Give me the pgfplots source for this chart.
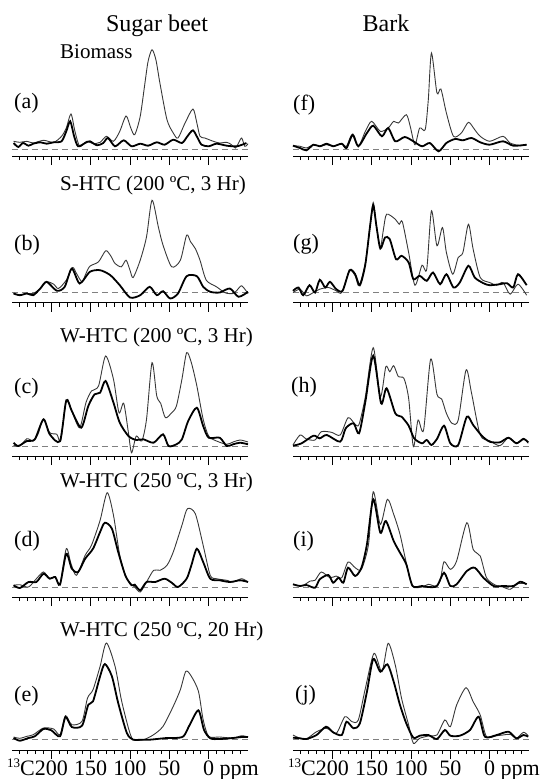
\documentclass[border=0pt]{standalone}
\usepackage{fontspec}
\setmainfont{Liberation Serif}
\usepackage{pgfplots}
\pgfplotsset{compat=1.18}

\pgfplotsset{
  spec/.style={
    scale only axis, width=236pt, height=110pt,
    anchor=south west,
    xmin=-50, xmax=250, x dir=reverse,
    ymin=-10, ymax=100,
    axis x line*=bottom, axis y line=none,
    xtick={0,50,...,200}, minor xtick={-40,-30,...,240},
    xticklabels={},
    tick align=outside, major tick length=9pt, minor tick length=4pt,
    tick style={black, line width=0.8pt},
    axis line style={black, line width=0.8pt},
    clip=false,
  },
  toprow/.style={ymin=-7, height=107pt},
  botrow/.style={ymin=-11, height=111pt,
    xticklabels={0\rlap{ ppm},50,100,150,{\llap{\raisebox{8pt}{\fontsize{13}{13}\selectfont 13}C}200}},
    xticklabel style={font=\fontsize{22}{24}\selectfont, text height=15pt, text depth=5pt, inner sep=1pt}},
  tl/.style={smooth, tension=0.45, line width=0.9pt, color=black!78, no markers},
  tk/.style={smooth, tension=0.45, line width=1.8pt, color=black, no markers},
  bl/.style={dash pattern=on 6pt off 4pt, line width=0.7pt, color=black!50, no markers},
}

\begin{document}
\begin{tikzpicture}
\path[use as bounding box] (0pt,0pt) rectangle (547pt,-779pt);

% ---------- Sugar beet ----------
\begin{axis}[spec, toprow, at={(12pt,-156pt)}]
\addplot[bl] coordinates {(250,0) (-50,0)};
\addplot[tl] coordinates {(248,7.7)(240,6.7)(231,7.7)(223,6)(210,8.7)(197,6.7)(187,12.7)(181,21)(175,35)(170,17.7)(164,2.7)(155,7.7)(147,5.3)(138,6.7)(130,12.7)(121,7.7)(113,17.7)(105,33)(99,21)(94,14.3)(87,32.7)(81,66)(77,87.7)(72,99.3)(67,89)(62,66)(53,29.3)(45,16)(39,11)(30,26)(20,40)(15,26)(11,12.7)(5,11)(-6,7.7)(-14,6)(-23,6.7)(-29,4.3)(-34,1)(-38,6)(-42,11)(-46,2.7)(-50,5.3)};
\addplot[tk] coordinates {(248,6)(242,2)(236,6)(229,3.3)(223,5.3)(214,6.7)(206,5.3)(197,6.7)(187,7.7)(181,17.7)(176,27.7)(171,12.7)(166,2.7)(157,6)(151,7.7)(142,3.7)(134,6)(128,11)(119,2.7)(108,8.7)(98,2.7)(87,5.3)(77,3.3)(66,6.7)(56,4.3)(45,9.3)(34,6)(27,12.7)(20,18.7)(14,11)(9,4.3)(0,2.7)(-10,5.3)(-23,3.3)(-36,2.7)(-48,6)};
\end{axis}

\begin{axis}[spec, at={(12pt,-302.5pt)}]
\addplot[bl] coordinates {(250,0) (-50,0)};
\addplot[tl] coordinates {(248,-1)(240,-2.7)(231,-1)(223,-1)(214,4)(206,10.7)(197,8.3)(191,4)(181,12.3)(173,25)(168,19)(161,10.7)(156,19)(151,26.3)(140,30.7)(131,41.7)(125,37.3)(119,29)(111,25.7)(105,32.3)(100,22.3)(96,15)(87,32.3)(79,55.7)(72,92.3)(64,65.7)(58,47.3)(47,25.7)(36,32.3)(28,57.3)(23,50.7)(17,44)(11,32.3)(3,12.3)(-10,5.7)(-21,-0.3)(-31,-1)(-36,2.3)(-42,6.7)(-50,-1)};
\addplot[tk] coordinates {(248,-1)(240,-2.7)(231,-1)(223,-2.7)(214,4)(206,10.7)(193,1.7)(183,5.7)(174,24)(164,9)(151,20.7)(138,22.3)(125,17.3)(113,7.3)(100,-5)(87,-2.7)(75,5.7)(66,-2.7)(58,1.3)(49,-6)(39,-1)(28,16.3)(15,16.3)(7,5.7)(-2,0.7)(-14,0)(-27,4)(-38,-4.3)(-50,0.7)};
\end{axis}

\begin{axis}[spec, at={(12pt,-456pt)}]
\addplot[bl] coordinates {(250,0) (-50,0)};
\addplot[tl] coordinates {(248,0.7)(240,0)(231,7.3)(223,5)(217,11.7)(210,26.7)(202,13.3)(193,11.7)(188,5)(181,45)(174,35)(164,18.3)(156,43.3)(149,55)(140,60)(131,90)(121,66.7)(114,33.3)(108,42.7)(102,13.3)(98,-6.7)(92,10)(85,5)(79,26.7)(72,83.3)(66,50)(61,42.7)(55,28.3)(47,33.3)(41,40)(34,66.7)(28,93.3)(22,83.3)(15,60)(7,26.7)(0,10)(-10,5)(-23,1.7)(-31,4)(-40,6)(-50,4)};
\addplot[tk] coordinates {(248,3.3)(242,0)(231,5)(221,6.7)(210,26.7)(202,11.7)(189,5)(181,45.7)(174,35)(162,18.3)(153,40)(145,51.7)(138,53.3)(131,65)(121,43.3)(113,23.3)(102,10)(92,6)(83,6.7)(70,3.3)(58,11.7)(51,0)(41,1.7)(34,6.7)(26,25)(15,38.3)(7,20)(0,8.3)(-14,8.3)(-23,0)(-31,1.7)(-40,3.3)(-50,1.7)};
\end{axis}

\begin{axis}[spec, at={(12pt,-597pt)}]
\addplot[bl] coordinates {(250,0) (-50,0)};
\addplot[tl] coordinates {(248,1.7)(240,2.3)(229,0)(219,8.3)(210,15)(202,8.3)(195,10)(189,3.3)(181,38.3)(175,23.3)(168,11.7)(157,31.7)(149,41.7)(138,66.7)(129,94.3)(121,71.7)(113,31.7)(104,8.3)(94,0)(87,-5)(79,5)(70,16.7)(62,16.7)(53,21.7)(45,35)(34,61.7)(27,78.3)(17,73.3)(7,41.7)(-2,11.7)(-10,8.3)(-23,6.7)(-31,5)(-42,8.3)(-50,5)};
\addplot[tk] coordinates {(248,1.7)(240,-1)(229,5)(219,5)(210,13.3)(202,8.3)(195,10)(189,2.3)(181,33.3)(174,18.3)(166,15)(157,28.3)(147,38.3)(138,55)(132,64.3)(123,58.3)(115,35)(106,11.7)(98,1.7)(94,2.3)(87,-3.3)(79,5)(68,5)(56,8.3)(47,4.3)(39,0)(28,8.3)(22,21.7)(15,38.3)(7,25)(-2,8.3)(-14,6.7)(-27,5)(-40,6.7)(-50,5)};
\end{axis}

\begin{axis}[spec, botrow, at={(12pt,-750pt)}]
\addplot[bl] coordinates {(250,0) (-50,0)};
\addplot[tl] coordinates {(248,2)(240,0.7)(231,2.7)(223,4.3)(210,11)(197,10)(189,4.3)(182,23.3)(174,14.3)(161,17.7)(154,41)(147,49.3)(138,72.7)(130,96)(119,72.7)(111,39.3)(102,11)(96,-0.7)(83,-0.7)(70,4.3)(58,12.7)(45,32.7)(36,49.3)(29,67.7)(22,62.7)(13,47.7)(7,19.3)(0,2.7)(-14,2)(-31,1)(-42,3.3)(-50,2)};
\addplot[tk] coordinates {(248,1)(240,-1.7)(229,1)(221,2.7)(210,10)(200,8.7)(189,2.7)(182,22)(174,12)(161,13.3)(153,34.3)(147,37.7)(138,62.7)(132,75)(123,62.7)(115,36)(104,6)(96,-0.7)(87,-0.7)(75,-0.7)(66,0)(53,1)(43,1)(32,2.7)(24,14.3)(13,28.7)(6,9.3)(-2,0.7)(-14,0)(-31,1)(-42,2)(-50,2)};
\end{axis}

% ---------- Bark ----------
\begin{axis}[spec, toprow, at={(293pt,-156pt)}]
\addplot[bl] coordinates {(250,0) (-50,0)};
\addplot[tl] coordinates {(250,3.3)(241,2.7)(233,1)(224,4.3)(216,2.7)(207,4.3)(199,2.7)(188,5.3)(182,2.7)(175,14.3)(167,2.7)(158,17.7)(150,27.7)(139,17.7)(129,21)(122,27.7)(116,26)(106,34.3)(101,22.7)(95,4.3)(89,21)(82,19.3)(78,49.3)(74,96)(67,56)(62,60)(55,36)(46,12.7)(36,16)(27,26.7)(19,19.3)(12,12.7)(0,7.7)(-17,12.7)(-26,6)(-39,3.3)(-47,4.3)};
\addplot[tk] coordinates {(250,3.3)(241,1)(233,-1.3)(224,4.3)(216,2.7)(207,5.3)(199,2.7)(188,5.3)(182,1)(174,14.3)(167,2.7)(156,16)(148,23.3)(137,12.7)(129,21)(120,7.7)(108,12)(97,7.7)(86,2.7)(76,6)(65,-2.3)(55,6)(44,10)(34,8.7)(23,11)(12,6.7)(0,4.3)(-17,7.7)(-30,3.3)(-47,4.3)};
\end{axis}

\begin{axis}[spec, at={(293pt,-302.5pt)}]
\addplot[bl] coordinates {(250,0) (-50,0)};
\addplot[tl] coordinates {(250,0)(241,3.3)(233,-3.3)(224,0)(216,3.3)(205,5)(195,1.7)(188,0)(178,21.7)(171,16.7)(166,6.7)(158,30)(152,66.7)(148,90)(144,66.7)(139,45)(135,63.3)(131,78.3)(120,73.3)(115,68.3)(111,70.7)(103,40)(95,7.3)(86,27.3)(80,23.3)(74,81.7)(67,46.7)(60,65)(55,40)(47,18.3)(40,35)(34,40)(27,68.3)(21,43.3)(12,15)(0,10)(-9,7.3)(-17,10)(-26,-1.7)(-36,8.3)(-47,-2.7)};
\addplot[tk] coordinates {(250,1.7)(243,5)(237,-2.7)(229,7.3)(222,0)(216,12.7)(209,5)(203,10.7)(195,3.3)(187,1.7)(178,22.3)(171,18.3)(165,7.3)(158,28.3)(152,66.7)(148,87.3)(144,66.7)(139,44)(133,55)(127,53.3)(119,33.3)(112,36.7)(103,30)(97,13.3)(89,16.7)(80,11.7)(72,20)(63,8.3)(55,18.3)(46,5)(38,10)(27,26.7)(19,15)(8,9.3)(0,7.3)(-13,8.3)(-22,9.3)(-30,5)(-36,18.3)(-47,7.3)};
\end{axis}

\begin{axis}[spec, at={(293pt,-456pt)}]
\addplot[bl] coordinates {(250,0) (-50,0)};
\addplot[tl] coordinates {(250,1)(241,11)(233,7)(222,6)(214,14.3)(201,13.7)(190,11)(180,28.3)(171,21.7)(166,21.7)(158,49.3)(148,98.3)(139,49.3)(132,79.3)(127,74.3)(122,80.3)(116,69.3)(109,67.7)(103,47.7)(97,-0.7)(91,26)(84,16)(75,87)(67,51.7)(61,47)(55,32.7)(48,22.7)(40,26)(30,76)(23,52.7)(12,11)(0,5.3)(-13,0.3)(-24,8.3)(-34,2.7)(-43,7.7)(-49,2.7)};
\addplot[tk] coordinates {(250,0.3)(239,2.7)(224,10.3)(216,7.7)(207,11)(190,4.3)(183,17.7)(173,22.7)(166,12.7)(158,44.3)(148,90.3)(138,42.7)(131,57.7)(120,32.7)(112,29.3)(103,20.3)(96,7.7)(86,2.7)(80,6)(74,1)(67,7)(58,20.3)(50,2.7)(40,1)(29,29.3)(21,21)(10,10.3)(0,4.3)(-13,3.7)(-24,8.3)(-34,2.7)(-43,7)(-49,3.7)};
\end{axis}

\begin{axis}[spec, at={(293pt,-597pt)}]
\addplot[bl] coordinates {(250,0) (-50,0)};
\addplot[tl] coordinates {(250,2.7)(239,1)(228,6)(222,6.7)(214,15)(203,9.3)(195,11)(188,9.3)(180,25)(171,19.3)(163,17.7)(154,42.7)(148,95.3)(139,62.7)(130,87.7)(122,72.7)(114,52.7)(106,24.3)(98,1)(86,0)(78,2.7)(69,1)(63,6)(58,25.3)(50,17.7)(42,26)(29,64.3)(21,37.7)(12,31)(4,9.3)(-7,2)(-17,0)(-26,-2.3)(-36,3.3)(-47,3.3)};
\addplot[tk] coordinates {(250,2.7)(241,1)(233,2)(222,-0.7)(216,7.7)(205,12)(199,4.3)(192,9.3)(186,4.3)(180,19.3)(171,11)(163,19.3)(156,42.7)(148,87.7)(139,54.3)(132,66)(122,46)(114,34.3)(106,22.7)(98,1)(86,1)(78,0)(67,1)(58,14.3)(50,1)(42,2.7)(29,16)(19,19.3)(8,9.3)(-5,1)(-17,1)(-30,1)(-39,5.3)(-47,2.7)};
\end{axis}

\begin{axis}[spec, botrow, at={(293pt,-750pt)}]
\addplot[bl] coordinates {(250,0) (-50,0)};
\addplot[tl] coordinates {(250,4)(241,0.7)(233,0)(220,7.3)(207,10.7)(195,5.7)(184,22.3)(175,17.3)(167,19)(158,50.7)(147,85.7)(137,67.3)(129,95.7)(120,74)(112,40.7)(103,14)(97,-4.3)(89,0.7)(76,3.3)(67,4)(57,19)(50,12.3)(42,34)(30,51.3)(21,37.3)(12,24)(4,2.3)(-9,3.3)(-17,4)(-26,4.7)(-34,0.7)(-43,6.7)(-49,3.3)};
\addplot[tk] coordinates {(250,1.3)(241,0.7)(233,0)(220,4)(208,12.3)(199,6.7)(188,4)(182,17.3)(173,10.7)(165,15.7)(156,47.3)(148,80)(139,67.3)(130,74.7)(122,57.3)(114,34)(106,15.7)(97,1.3)(89,3.3)(78,4)(67,0)(57,9)(50,3.3)(38,3.3)(25,9)(14,22.3)(6,2.3)(-9,4)(-24,7.3)(-34,0.7)(-43,4)(-49,2.3)};
\end{axis}

% ---------- texts ----------
\begin{scope}[every node/.style={inner sep=0pt}]
\node[anchor=base, font=\fontsize{24}{24}\selectfont] at (157pt,-31pt) {Sugar beet};
\node[anchor=base, font=\fontsize{24}{24}\selectfont] at (386pt,-31pt) {Bark};
\node[anchor=base west, font=\fontsize{21}{21}\selectfont] at (60pt,-58pt) {Biomass};
\node[anchor=base west, font=\fontsize{21}{21}\selectfont] at (60pt,-190pt) {S-HTC (200 ºC, 3 Hr)};
\node[anchor=base west, font=\fontsize{21}{21}\selectfont] at (60pt,-342pt) {W-HTC (200 ºC, 3 Hr)};
\node[anchor=base west, font=\fontsize{21}{21}\selectfont] at (60pt,-487pt) {W-HTC (250 ºC, 3 Hr)};
\node[anchor=base west, font=\fontsize{21}{21}\selectfont] at (60pt,-636pt) {W-HTC (250 ºC, 20 Hr)};
\node[anchor=base west, font=\fontsize{22}{22}\selectfont] at (14pt,-108pt) {(a)};
\node[anchor=base west, font=\fontsize{22}{22}\selectfont] at (14pt,-250pt) {(b)};
\node[anchor=base west, font=\fontsize{22}{22}\selectfont] at (14pt,-393pt) {(c)};
\node[anchor=base west, font=\fontsize{22}{22}\selectfont] at (14pt,-546pt) {(d)};
\node[anchor=base west, font=\fontsize{22}{22}\selectfont] at (14pt,-701pt) {(e)};
\node[anchor=base west, font=\fontsize{22}{22}\selectfont] at (293pt,-110pt) {(f)};
\node[anchor=base west, font=\fontsize{22}{22}\selectfont] at (293pt,-249pt) {(g)};
\node[anchor=base west, font=\fontsize{22}{22}\selectfont] at (291pt,-392pt) {(h)};
\node[anchor=base west, font=\fontsize{22}{22}\selectfont] at (293pt,-546pt) {(i)};
\node[anchor=base west, font=\fontsize{22}{22}\selectfont] at (295pt,-700pt) {(j)};
\end{scope}
\end{tikzpicture}
\end{document}
